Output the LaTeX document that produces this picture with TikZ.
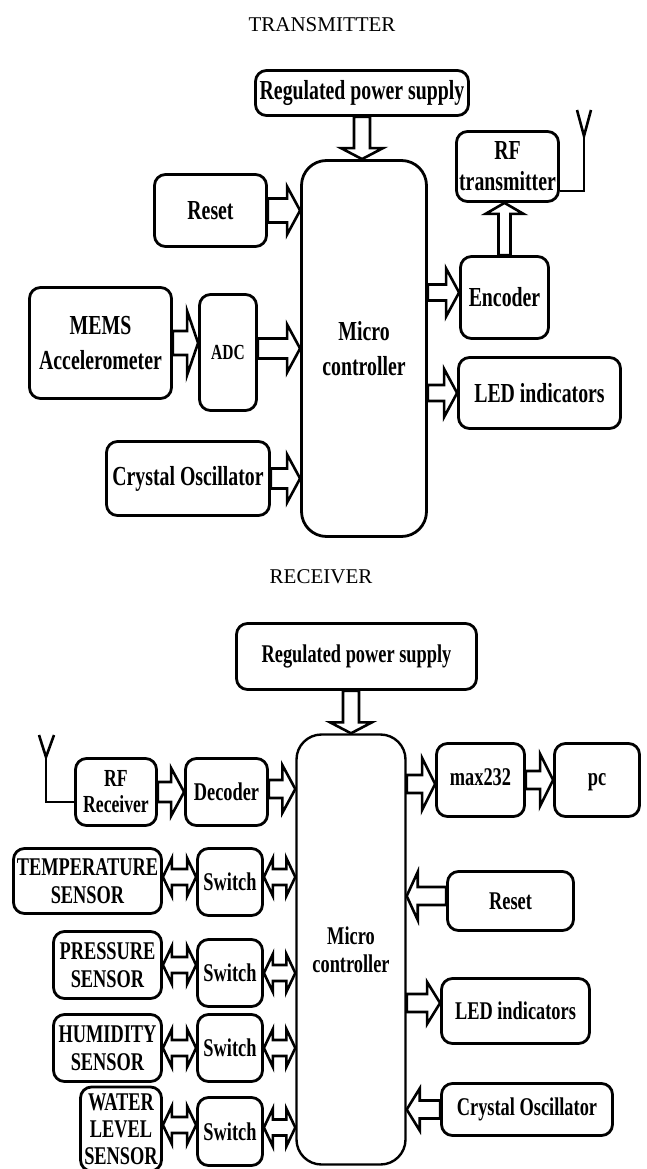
\documentclass[tikz,border=0pt]{standalone}
\usepackage{fontspec}
\setmainfont{Liberation Serif}
\newfontfamily\boxfont[FakeStretch=0.72]{Liberation Serif}
\usetikzlibrary{calc}

\tikzset{
  blk/.style={draw, line width=2.8pt, rounded corners=11pt, align=center, inner sep=0pt},
  txt/.style={font=\boxfont\bfseries\fontsize{27.5}{35}\selectfont},
  rxt/.style={font=\boxfont\bfseries\fontsize{25.5}{28}\selectfont},
  ttl/.style={font=\fontsize{21}{25}\selectfont},
  wire/.style={line width=2.6pt, line join=miter},
  fatshaft/.store in=\fsw, fathead/.store in=\fhw, fatlen/.store in=\fhl,
  fatshaft=10, fathead=24, fatlen=13,
  fat/.style={draw, line width=2.6pt, fill=white, line join=miter,
    to path={let \p1=(\tikztostart), \p2=(\tikztotarget),
      \n1={veclen(\x2-\x1,\y2-\y1)}, \n2={(\x2-\x1)/\n1}, \n3={(\y2-\y1)/\n1} in
      ({\x1-\fsw*\n3},{\y1+\fsw*\n2})
      -- ({\x2-\fhl*\n2-\fsw*\n3},{\y2-\fhl*\n3+\fsw*\n2})
      -- ({\x2-\fhl*\n2-\fhw*\n3},{\y2-\fhl*\n3+\fhw*\n2})
      -- (\x2,\y2)
      -- ({\x2-\fhl*\n2+\fhw*\n3},{\y2-\fhl*\n3-\fhw*\n2})
      -- ({\x2-\fhl*\n2+\fsw*\n3},{\y2-\fhl*\n3-\fsw*\n2})
      -- ({\x1+\fsw*\n3},{\y1-\fsw*\n2}) -- cycle}},
  fatboth/.style={draw, line width=2.6pt, fill=white, line join=miter,
    to path={let \p1=(\tikztostart), \p2=(\tikztotarget),
      \n1={veclen(\x2-\x1,\y2-\y1)}, \n2={(\x2-\x1)/\n1}, \n3={(\y2-\y1)/\n1} in
      (\x1,\y1)
      -- ({\x1+\fhl*\n2-\fhw*\n3},{\y1+\fhl*\n3+\fhw*\n2})
      -- ({\x1+\fhl*\n2-\fsw*\n3},{\y1+\fhl*\n3+\fsw*\n2})
      -- ({\x2-\fhl*\n2-\fsw*\n3},{\y2-\fhl*\n3+\fsw*\n2})
      -- ({\x2-\fhl*\n2-\fhw*\n3},{\y2-\fhl*\n3+\fhw*\n2})
      -- (\x2,\y2)
      -- ({\x2-\fhl*\n2+\fhw*\n3},{\y2-\fhl*\n3-\fhw*\n2})
      -- ({\x2-\fhl*\n2+\fsw*\n3},{\y2-\fhl*\n3-\fsw*\n2})
      -- ({\x1+\fhl*\n2+\fsw*\n3},{\y1+\fhl*\n3-\fsw*\n2})
      -- ({\x1+\fhl*\n2+\fhw*\n3},{\y1+\fhl*\n3-\fhw*\n2}) -- cycle}},
}

\begin{document}
\begin{tikzpicture}[x=1pt, y=-1pt]
\useasboundingbox (0,0) rectangle (647,1169);

% transmitter
\node[ttl] (tTitle) at (322,24.5) {TRANSMITTER};
\node[blk, txt, minimum width=213, minimum height=45] (regT) at (362,93) {Regulated power supply};
\node[blk, txt, rounded corners=25pt, minimum width=125, minimum height=376] (mcT) at (364,348.5) {Micro\\controller};
\node[blk, txt, minimum width=112, minimum height=72] (resetT) at (210.5,210.5) {Reset};
\node[blk, txt, minimum width=142, minimum height=111] (memsT) at (100.5,343) {MEMS\\Accelerometer};
\node[blk, font=\boxfont\bfseries\fontsize{21.5}{24}\selectfont, minimum width=57, minimum height=116] (adcT) at (228,352.5) {ADC};
\node[blk, txt, minimum width=163, minimum height=74] (xtalT) at (188,478.5) {Crystal Oscillator};
\node[blk, minimum width=102, minimum height=70, font=\boxfont\bfseries\fontsize{27.5}{31}\selectfont] (rfT) at (507.5,166.5) {RF\\transmitter};
\node[blk, txt, minimum width=88, minimum height=82] (encT) at (504.5,297.5) {Encoder};
\node[blk, txt, minimum width=162, minimum height=71] (ledT) at (539.5,393) {LED indicators};

\draw[fat, fatshaft=8, fathead=21, fatlen=11] (regT.south) to (regT.south |- mcT.north);
\draw[fat, fatshaft=12] (resetT.east) to (resetT.east -| mcT.west);
\draw[fat, fatshaft=12, fathead=32, fatlen=11] (memsT.east) to (memsT.east -| adcT.west);
\draw[fat, fatshaft=10] ([yshift=4pt]adcT.east) to ([yshift=4pt]adcT.east -| mcT.west);
\draw[fat, fatshaft=10] (xtalT.east) to (xtalT.east -| mcT.west);
\draw[fat, fatshaft=8] ([yshift=5pt]encT.west -| mcT.east) to ([yshift=5pt]encT.west);
\draw[fat, fatshaft=8] (ledT.west -| mcT.east) to (ledT.west);
\draw[fat, fatshaft=6, fathead=19, fatlen=11] (encT.north) to (encT.north |- rfT.south);

\coordinate (antT) at (584,136);
\draw[wire] (rfT.east |- 0,191) -| (antT);
\draw[wire] (577,110) -- (antT) -- (591,110);

% receiver
\node[ttl] (rTitle) at (321,577) {RECEIVER};
\node[blk, rxt, minimum width=240, minimum height=66] (regR) at (356.5,656.5) {Regulated power supply};
\node[blk, rxt, line width=2.4pt, rounded corners=25pt, minimum width=109, minimum height=430] (mcR) at (351,949.5) {Micro\\controller};
\node[blk, font=\boxfont\bfseries\fontsize{24.5}{26}\selectfont, minimum width=81, minimum height=67] (rfR) at (116,792) {RF\\Receiver};
\node[blk, rxt, minimum width=82, minimum height=67] (decR) at (226.5,792) {Decoder};
\node[blk, rxt, minimum width=88, minimum height=73] (maxR) at (480.5,780) {\strut max232};
\node[blk, rxt, minimum width=85, minimum height=73] (pcR) at (597,780) {\strut pc};
\node[blk, rxt, minimum width=126, minimum height=59] (resetR) at (510.5,901) {Reset};
\node[blk, rxt, minimum width=148, minimum height=65] (ledR) at (515.5,1011) {LED indicators};
\node[blk, rxt, minimum width=171, minimum height=52] (xtalR) at (527,1109.5) {Crystal Oscillator};

\node[blk, rxt, minimum width=148, minimum height=65] (tempR) at (87.5,881) {TEMPERATURE\\SENSOR};
\node[blk, rxt, minimum width=108, minimum height=67] (presR) at (107.5,965) {PRESSURE\\SENSOR};
\node[blk, rxt, minimum width=108, minimum height=67] (humR) at (107.5,1048) {HUMIDITY\\SENSOR};
\node[blk, font=\boxfont\bfseries\fontsize{25.5}{27}\selectfont, minimum width=81, minimum height=84] (watR) at (121,1129) {WATER\\LEVEL\\SENSOR};
\node[blk, rxt, minimum width=65, minimum height=67] (sw1) at (230,882) {Switch};
\node[blk, rxt, minimum width=65, minimum height=67] (sw2) at (230,973) {Switch};
\node[blk, rxt, minimum width=65, minimum height=67] (sw3) at (230,1048) {Switch};
\node[blk, rxt, minimum width=65, minimum height=68] (sw4) at (230,1131.5) {Switch};

\draw[fat, fatshaft=8, fathead=21, fatlen=11] (mcR.north |- regR.south) to (mcR.north);
\draw[fat, fatshaft=10] (rfR.east) to (rfR.east -| decR.west);
\draw[fat, fatshaft=9] ([yshift=3pt]decR.east) to ([yshift=3pt]decR.east -| mcR.west);
\draw[fat, fatshaft=9, fathead=26] ([yshift=-4pt]maxR.west -| mcR.east) to ([yshift=-4pt]maxR.west);
\draw[fat, fatshaft=9, fathead=26] (maxR.east) to (maxR.east -| pcR.west);
\draw[fat, fatshaft=9, fatlen=11] ([yshift=5pt]resetR.west) to ([yshift=5pt]resetR.west -| mcR.east);
\draw[fat, fatshaft=9, fathead=21] ([yshift=8pt]ledR.west -| mcR.east) to ([yshift=8pt]ledR.west);
\draw[fat, fatshaft=9, fathead=21] (xtalR.west) to (xtalR.west -| mcR.east);

\draw[fatboth, fatshaft=8, fathead=19, fatlen=9] ([yshift=4pt]tempR.east) to ([yshift=4pt]tempR.east -| sw1.west);
\draw[fatboth, fatshaft=8, fathead=19, fatlen=9] ([yshift=5pt]sw1.east) to ([yshift=5pt]sw1.east -| mcR.west);
\draw[fatboth, fatshaft=8, fathead=19, fatlen=9] (presR.east) to (presR.east -| sw2.west);
\draw[fatboth, fatshaft=8, fathead=19, fatlen=9] (sw2.east) to (sw2.east -| mcR.west);
\draw[fatboth, fatshaft=8, fathead=19, fatlen=9] (humR.east) to (humR.east -| sw3.west);
\draw[fatboth, fatshaft=8, fathead=19, fatlen=9] (sw3.east) to (sw3.east -| mcR.west);
\draw[fatboth, fatshaft=8, fathead=19, fatlen=9] ([yshift=4pt]watR.east) to ([yshift=4pt]watR.east -| sw4.west);
\draw[fatboth, fatshaft=8, fathead=19, fatlen=9] ([yshift=4pt]sw4.east) to ([yshift=4pt]sw4.east -| mcR.west);

\coordinate (antR) at (46,757);
\draw[wire] (rfR.west |- 0,802) -| (antR);
\draw[wire] (39,735) -- (antR) -- (54,735);
\end{tikzpicture}
\end{document}
